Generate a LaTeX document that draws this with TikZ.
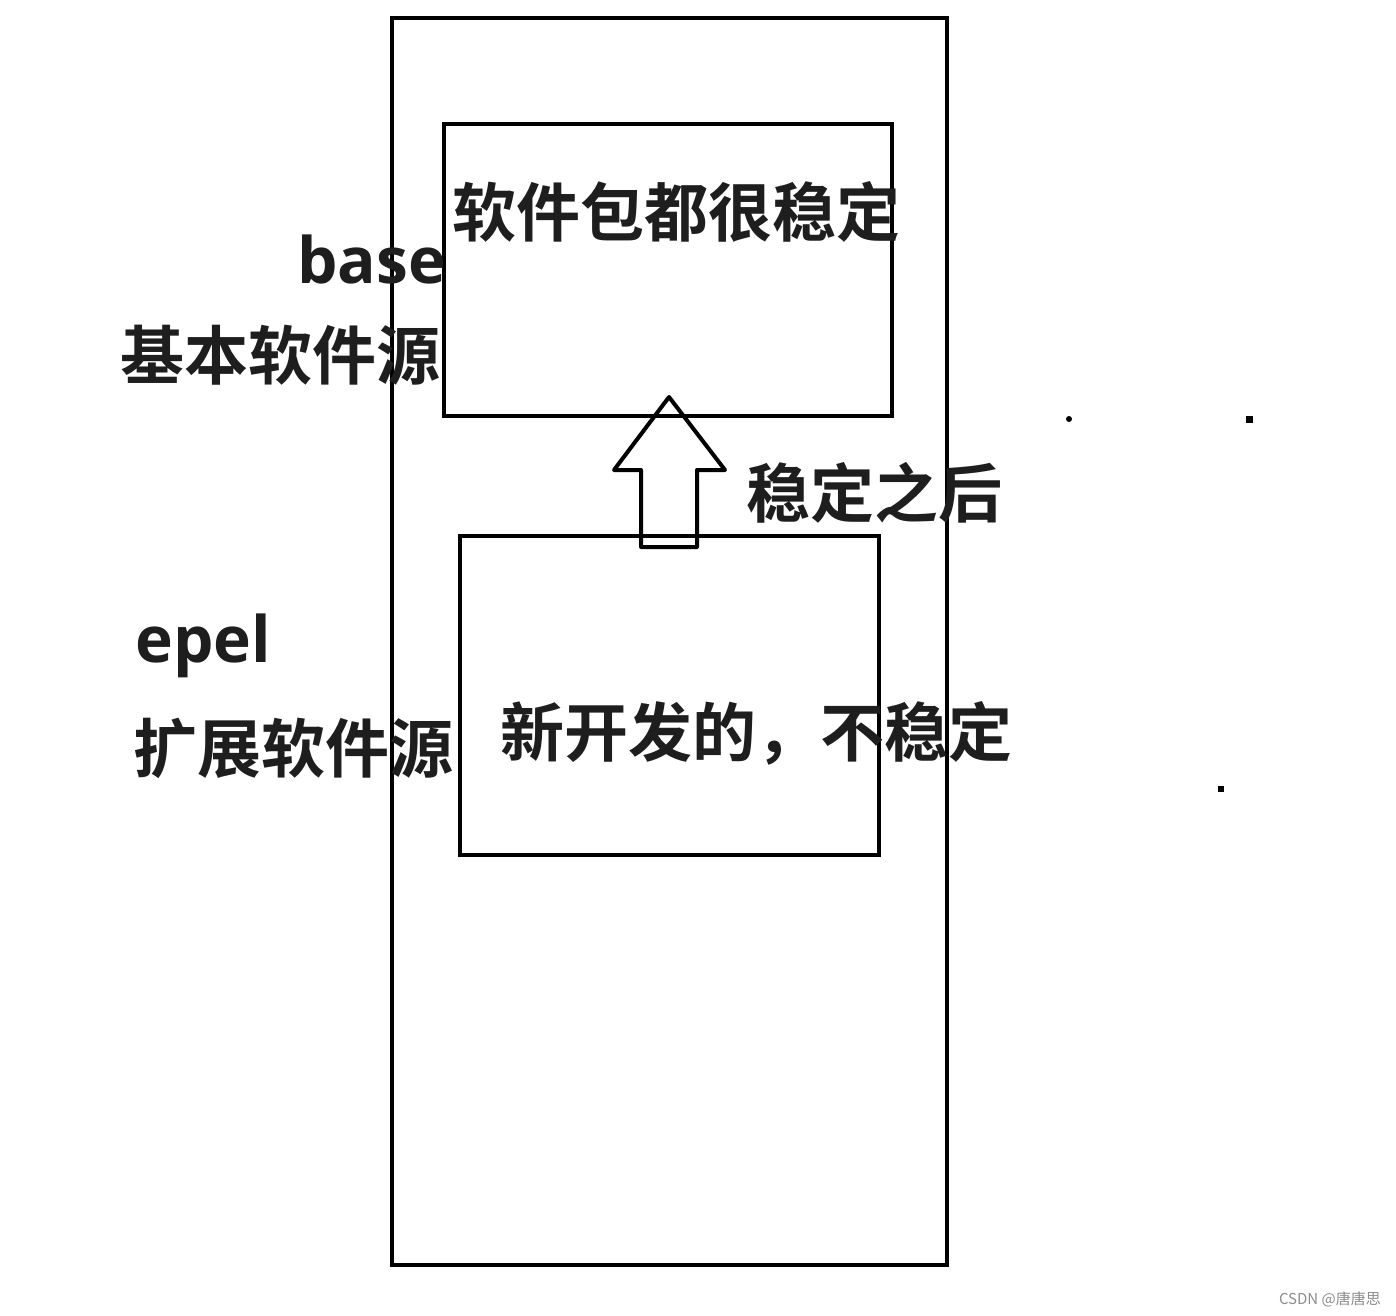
\documentclass[tikz,border=0pt]{standalone}
\usepackage{fontspec}
\newfontfamily\cjk{Noto Sans CJK SC Bold}
\newfontfamily\lat{Open Sans}
\newfontfamily\wm{Noto Sans CJK SC}
\definecolor{ink}{HTML}{1E1E1E}
\tikzset{
  frame/.style={draw=black, line width=4pt},
  cjktext/.style={inner sep=0pt, text=ink, font=\cjk\fontsize{64}{64}\selectfont},
  lattext/.style={inner sep=0pt, text=ink, font=\lat\bfseries\fontsize{64}{64}\selectfont},
  dotsq/.style={fill=black, draw=none}
}
\begin{document}
\begin{tikzpicture}[x=1pt,y=-1pt]
\useasboundingbox (0,0) rectangle (1396,1315);
\fill[white] (0,0) rectangle (1396,1315);
% outer frame
\draw[frame] (392,18) rectangle (947,1265);
% top box
\node[frame, minimum width=448pt, minimum height=292pt, inner sep=0pt, outer sep=0pt, anchor=north west] (base) at (444,124) {};
% bottom box
\node[frame, minimum width=419pt, minimum height=319pt, inner sep=0pt, outer sep=0pt, anchor=north west] (epel) at (460,536) {};
% hollow arrow
\draw[frame, line join=round] (641,547) -- (641,470) -- (614,470) -- (669,397) -- (725,470) -- (697,470) -- (697,547) -- cycle;
% texts
\node[cjktext, anchor=west] (t1) at (452,212) {软件包都很稳定};
\node[lattext, anchor=base west] (t2) at (297,283) {base};
\node[cjktext, anchor=west] (t3) at (120,355) {基本软件源};
\node[cjktext, anchor=west] (t4) at (746,493) {稳定之后};
\node[lattext, anchor=base west] (t5) at (135,662) {epel};
\node[cjktext, anchor=west] (t6) at (133,748) {扩展软件源};
\node[cjktext, anchor=west] (t7) at (500,733) {新开发的，不稳定};
% dots
\fill (1069,419) circle (3pt);
\fill[dotsq] (1245.5,415.5) rectangle (1252.5,422.5);
\fill[dotsq] (1218,786) rectangle (1224,792);
% watermark
\node[inner sep=0pt, anchor=east, text=black!45, font=\wm\fontsize{15}{15}\selectfont] (wm) at (1381,1299) {CSDN @唐唐思};
\end{tikzpicture}
\end{document}
